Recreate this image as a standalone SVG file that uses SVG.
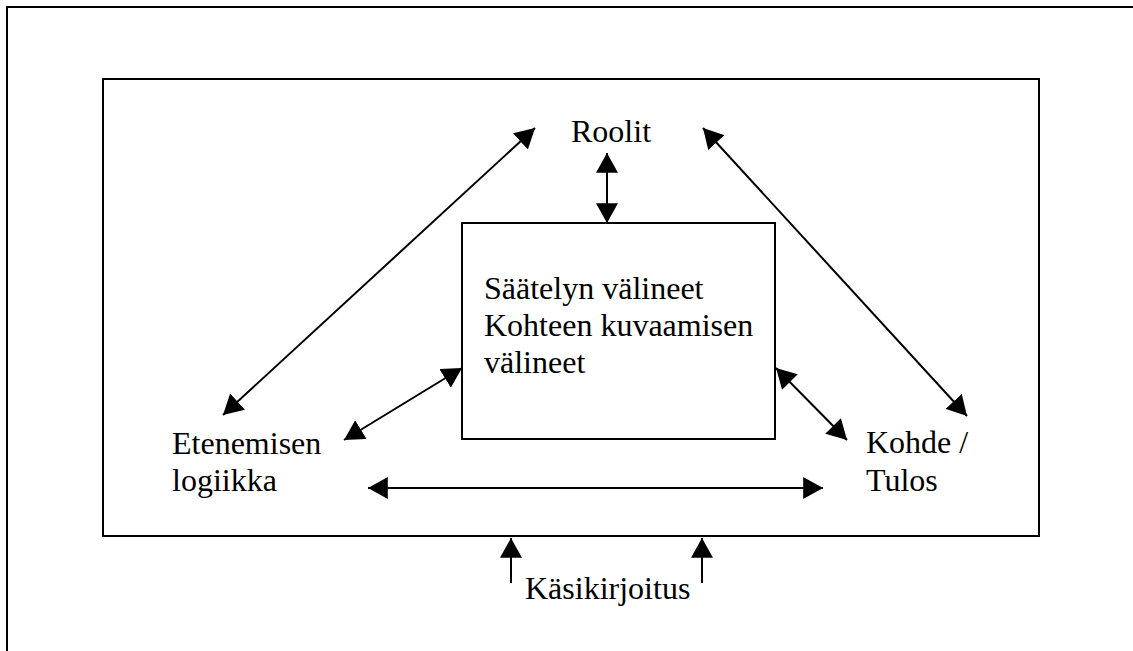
<svg xmlns="http://www.w3.org/2000/svg" width="1133" height="651" viewBox="0 0 1133 651">
  <style>
    .frame { fill: none; stroke: #000; stroke-width: 2; }
    .lbl { font-family: "Liberation Serif", "Times New Roman", serif; font-size: 32px; fill: #000; }
    .link { fill: none; stroke: #000; stroke-width: 2; marker-start: url(#head); marker-end: url(#head); }
    .up { fill: none; stroke: #000; stroke-width: 2; marker-end: url(#head); }
  </style>
  <defs>
    <marker id="head" markerUnits="userSpaceOnUse" markerWidth="20" markerHeight="22" viewBox="0 0 18 20" refX="18" refY="10" orient="auto-start-reverse">
      <path d="M0,0 L18,10 L0,20 Z" fill="#000"/>
    </marker>
  </defs>
  <rect width="1133" height="651" fill="#fff"/>

  <!-- page frame -->
  <rect class="frame" x="7" y="7" width="1140" height="660"/>

  <!-- outer boundary of the model -->
  <g id="boundary">
    <rect class="frame" x="103" y="79" width="936" height="457"/>
  </g>

  <g id="roolit">
    <text class="lbl" x="571" y="142">Roolit</text>
  </g>

  <g id="valineet">
    <rect class="frame" x="462" y="223" width="313" height="216"/>
    <text class="lbl" x="484" y="299">Säätelyn välineet</text>
    <text class="lbl" x="484" y="336">Kohteen kuvaamisen</text>
    <text class="lbl" x="484" y="373">välineet</text>
  </g>

  <g id="etenemisen-logiikka">
    <text class="lbl" x="172" y="454">Etenemisen</text>
    <text class="lbl" x="172" y="491">logiikka</text>
  </g>

  <g id="kohde-tulos">
    <text class="lbl" x="866" y="453">Kohde /</text>
    <text class="lbl" x="866" y="491">Tulos</text>
  </g>

  <g id="kasikirjoitus">
    <text class="lbl" x="525" y="599">Käsikirjoitus</text>
  </g>

  <g id="connectors">
    <line class="link" x1="607" y1="153" x2="607" y2="223"/>
    <line class="link" x1="535" y1="128" x2="223" y2="415"/>
    <line class="link" x1="703" y1="128" x2="967" y2="416"/>
    <line class="link" x1="462" y1="368" x2="344" y2="440"/>
    <line class="link" x1="776" y1="368" x2="847" y2="440"/>
    <line class="link" x1="368" y1="488" x2="823" y2="488"/>
    <line class="up" x1="511" y1="583" x2="511" y2="538"/>
    <line class="up" x1="702" y1="583" x2="702" y2="538"/>
  </g>
</svg>
